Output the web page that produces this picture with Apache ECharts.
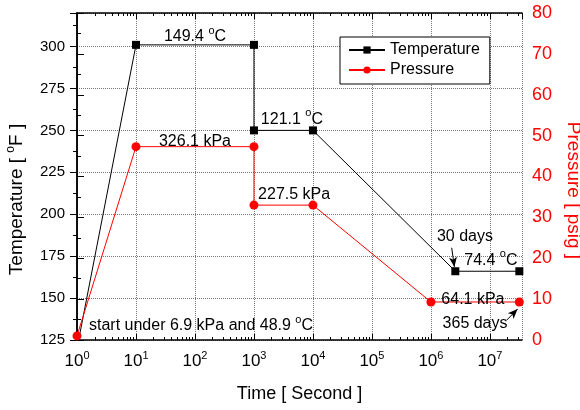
<!DOCTYPE html>
<html>
<head>
<meta charset="utf-8">
<script src="https://cdn.jsdelivr.net/npm/echarts@6/dist/echarts.min.js"></script>
<style>
  html, body { margin: 0; padding: 0; background: #fff; }
  #chart { width: 580px; height: 410px; }
</style>
</head>
<body>
<div id="chart"></div>
<script>
// time in seconds, temperature in °F, pressure in psig
const tempTime = [1, 10, 1000, 1000, 1e4, 2592000, 31536000]
const tempF = [120, 301, 301, 250, 250, 166, 166]
const pressTime = [1, 10, 1000, 1000, 1e4, 1e6, 31536000]
const pressPsig = [1, 47.3, 47.3, 33, 33, 9.3, 9.3]

const FONT = '"Liberation Sans", Arial, sans-serif'
const X_MIN = 1
const X_MAX = 3.5e7
const LOG_MAX = Math.log10(X_MAX)

// log-spaced minor ticks (2..9 per decade), in decades for a linear helper axis
const minorX = []
for (let k = 0; k < 8; k++) {
  for (let m = 2; m <= 9; m++) {
    const d = k + Math.log10(m)
    if (d < LOG_MAX) minorX.push(d)
  }
}

const sup = { fontSize: 11, padding: [0, 0, 12, 0], fontFamily: FONT, color: '#000' }

function zip(xs, ys) {
  return xs.map((x, i) => [x, ys[i]])
}

function note(coord, text, offset, extra) {
  return {
    coord,
    symbolSize: 0,
    label: Object.assign({ formatter: text, offset }, extra || {}),
  }
}

const chart = echarts.init(document.getElementById('chart'), null, { renderer: 'canvas' })

const logAxis = (pos) => ({
  type: 'log',
  logBase: 10,
  min: X_MIN,
  max: X_MAX,
  position: pos,
  axisLine: { show: true, lineStyle: { color: '#000', width: 1.5 } },
  axisTick: { show: true, inside: true, length: 6, lineStyle: { color: '#000', width: 1 } },
  axisLabel: { show: false },
  splitLine: { show: false },
})

const minorAxis = (pos) => ({
  type: 'value',
  min: 0,
  max: LOG_MAX,
  position: pos,
  axisLine: { show: false },
  axisTick: { show: true, inside: true, length: 3, customValues: minorX, lineStyle: { color: '#000', width: 1 } },
  axisLabel: { show: false },
  splitLine: { show: false },
})

const bottomMain = Object.assign(logAxis('bottom'), {
  name: 'Time [ Second ]',
  nameLocation: 'middle',
  nameGap: 45,
  nameTextStyle: { fontSize: 18, color: '#000', fontFamily: FONT },
  axisLabel: {
    show: true,
    margin: 10,
    showMaxLabel: false,
    color: '#000',
    fontSize: 17,
    fontFamily: FONT,
    formatter: (v) => '10{sup|' + Math.round(Math.log10(v)) + '}',
    rich: { sup: { fontSize: 11, padding: [0, 0, 12, 0], fontFamily: FONT, color: '#000' } },
  },
  splitLine: { show: true, lineStyle: { color: '#777', type: 'dotted', width: 1 } },
})

chart.setOption({
  animation: false,
  textStyle: { fontFamily: FONT },
  grid: { left: 77, right: 58, top: 13, bottom: 70, containLabel: false, outerBoundsMode: 'none' },
  legend: {
    orient: 'vertical',
    left: 340,
    top: 37,
    data: ['Temperature', 'Pressure'],
    backgroundColor: '#fff',
    borderColor: '#000',
    borderWidth: 1,
    borderRadius: 0,
    padding: [5, 10, 6, 8],
    itemGap: 4,
    itemWidth: 36,
    itemHeight: 9,
    textStyle: { fontSize: 16, color: '#000', fontFamily: FONT },
  },
  xAxis: [
    bottomMain,
    minorAxis('bottom'),
    logAxis('top'),
    minorAxis('top'),
  ],
  yAxis: [
    {
      type: 'value',
      min: 125,
      max: 320,
      interval: 25,
      position: 'left',
      name: 'Temperature [ {sup|o}F ]',
      nameLocation: 'middle',
      nameGap: 48,
      nameTextStyle: {
        fontSize: 19,
        color: '#000',
        fontFamily: FONT,
        padding: [0, 46, 0, 0],
        rich: { sup: { fontSize: 12, padding: [0, 0, 12, 0], fontFamily: FONT, color: '#000' } },
      },
      axisLine: { show: true, lineStyle: { color: '#000', width: 1.5 } },
      axisTick: { show: true, inside: false, length: 7, lineStyle: { color: '#000', width: 1 } },
      minorTick: { show: true, splitNumber: 2, length: 4, lineStyle: { color: '#000', width: 1 } },
      axisLabel: { margin: 12, color: '#000', fontSize: 15, fontFamily: FONT, showMaxLabel: false },
      splitLine: { show: true, lineStyle: { color: '#777', type: 'dotted', width: 1 } },
    },
    {
      type: 'value',
      min: 0,
      max: 80,
      interval: 10,
      position: 'right',
      name: 'Pressure [ psig ]',
      nameLocation: 'middle',
      nameGap: 42,
      nameRotate: -90,
      nameTextStyle: { fontSize: 19, color: '#ff0000', fontFamily: FONT, padding: [0, 0, 0, 28] },
      axisLine: { show: true, lineStyle: { color: '#000', width: 1.5 } },
      axisTick: { show: true, inside: false, length: 7, lineStyle: { color: '#000', width: 1 } },
      minorTick: { show: true, splitNumber: 2, length: 4, lineStyle: { color: '#000', width: 1 } },
      axisLabel: { margin: 10, color: '#ff0000', fontSize: 18, fontFamily: FONT },
      splitLine: { show: false },
    },
  ],
  series: [
    {
      name: 'Temperature',
      type: 'line',
      xAxisIndex: 0,
      yAxisIndex: 0,
      data: zip(tempTime, tempF),
      symbol: 'rect',
      symbolSize: 8,
      clip: true,
      color: '#000',
      lineStyle: { color: '#000', width: 1 },
      itemStyle: { color: '#000' },
      markPoint: {
        silent: true,
        label: { color: '#000', fontSize: 16, fontFamily: FONT, rich: { sup } },
        data: [
          note([100, tempF[1]], '149.4 {sup|o}C', [0, -8]),
          note([4400, tempF[3]], '121.1 {sup|o}C', [0, -11]),
          note([1.04e7, tempF[5]], '74.4 {sup|o}C', [0, -11]),
          note([3.77e6, tempF[5]], '30 days', [0, -35]),
        ],
      },
      markLine: {
        silent: true,
        symbol: ['none', 'arrow'],
        symbolSize: [6, 10],
        label: { show: false },
        lineStyle: { color: '#000', type: 'solid', width: 1 },
        data: [[{ coord: [2.25e6, 180] }, { coord: [2.5e6, 168.5] }]],
      },
    },
    {
      name: 'Pressure',
      type: 'line',
      xAxisIndex: 0,
      yAxisIndex: 1,
      data: zip(pressTime, pressPsig),
      symbol: 'circle',
      symbolSize: 9,
      clip: true,
      color: '#ff0000',
      lineStyle: { color: '#ff0000', width: 1 },
      itemStyle: { color: '#ff0000' },
      markPoint: {
        silent: true,
        label: { color: '#000', fontSize: 16, fontFamily: FONT, rich: { sup } },
        data: [
          note([100, pressPsig[1]], '326.1 kPa', [0, -5]),
          note([4800, pressPsig[3]], '227.5 kPa', [0, -11]),
          note([5.15e6, pressPsig[5]], '64.1 kPa', [0, -2]),
          note([5.6e6, pressPsig[5]], '365 days', [0, 22]),
          note([X_MIN, pressPsig[0]], 'start under 6.9 kPa and 48.9 {sup|o}C', [12, -10],
            { position: 'inside', align: 'left' }),
        ],
      },
      markLine: {
        silent: true,
        symbol: ['none', 'arrow'],
        symbolSize: [6, 10],
        label: { show: false },
        lineStyle: { color: '#000', type: 'solid', width: 1 },
        data: [[{ coord: [1.94e7, 4.9] }, { coord: [2.95e7, 7.6] }]],
      },
    },
  ],
})
</script>
</body>
</html>
